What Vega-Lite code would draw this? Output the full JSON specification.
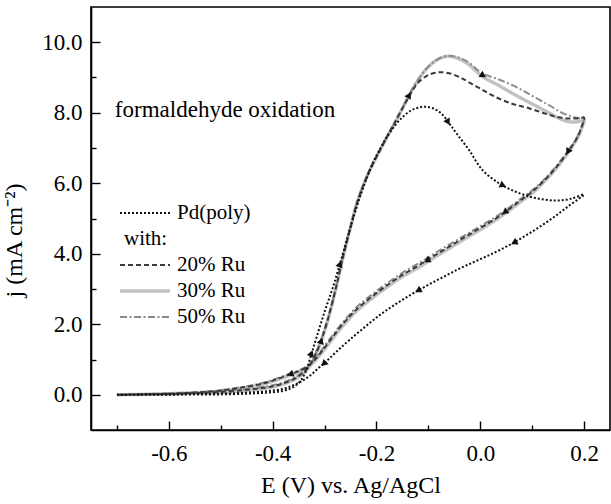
{
  "$schema": "https://vega.github.io/schema/vega-lite/v6.json",
  "width": 519,
  "height": 423,
  "autosize": {"type": "none"},
  "padding": {"left": 91, "top": 7, "right": 1, "bottom": 74},
  "background": "white",
  "config": {
    "font": "Liberation Serif",
    "view": {"stroke": "black", "strokeWidth": 1.6},
    "axis": {
      "grid": false,
      "domainColor": "black",
      "domainWidth": 1.6,
      "tickColor": "black",
      "tickWidth": 1.4,
      "labelFont": "Liberation Serif",
      "labelFontSize": 23,
      "labelColor": "black",
      "titleFont": "Liberation Serif",
      "titleFontSize": 24,
      "titleFontWeight": "normal",
      "titleColor": "black"
    },
    "legend": {
      "labelFont": "Liberation Serif",
      "labelFontSize": 21,
      "labelColor": "black",
      "symbolSize": 2500,
      "labelOffset": 5,
      "padding": 0,
      "rowPadding": 0,
      "clipHeight": 26
    }
  },
  "datasets": {
    "curves": [
      {"s": "30% Ru", "E": -0.70, "j": 0.00}, {"s": "30% Ru", "E": -0.65, "j": 0.01}, {"s": "30% Ru", "E": -0.60, "j": 0.02}, {"s": "30% Ru", "E": -0.55, "j": 0.04}, {"s": "30% Ru", "E": -0.50, "j": 0.07}, {"s": "30% Ru", "E": -0.45, "j": 0.12}, {"s": "30% Ru", "E": -0.42, "j": 0.17}, {"s": "30% Ru", "E": -0.40, "j": 0.22}, {"s": "30% Ru", "E": -0.38, "j": 0.30}, {"s": "30% Ru", "E": -0.36, "j": 0.42}, {"s": "30% Ru", "E": -0.345, "j": 0.56}, {"s": "30% Ru", "E": -0.33, "j": 0.78}, {"s": "30% Ru", "E": -0.318, "j": 1.10}, {"s": "30% Ru", "E": -0.307, "j": 1.50}, {"s": "30% Ru", "E": -0.295, "j": 2.05}, {"s": "30% Ru", "E": -0.28, "j": 2.90}, {"s": "30% Ru", "E": -0.266, "j": 3.80}, {"s": "30% Ru", "E": -0.25, "j": 4.75}, {"s": "30% Ru", "E": -0.236, "j": 5.50}, {"s": "30% Ru", "E": -0.215, "j": 6.30}, {"s": "30% Ru", "E": -0.195, "j": 6.88}, {"s": "30% Ru", "E": -0.18, "j": 7.30}, {"s": "30% Ru", "E": -0.165, "j": 7.70}, {"s": "30% Ru", "E": -0.15, "j": 8.12}, {"s": "30% Ru", "E": -0.135, "j": 8.55}, {"s": "30% Ru", "E": -0.12, "j": 8.92}, {"s": "30% Ru", "E": -0.105, "j": 9.22}, {"s": "30% Ru", "E": -0.09, "j": 9.43}, {"s": "30% Ru", "E": -0.075, "j": 9.56}, {"s": "30% Ru", "E": -0.06, "j": 9.60}, {"s": "30% Ru", "E": -0.045, "j": 9.55}, {"s": "30% Ru", "E": -0.025, "j": 9.40}, {"s": "30% Ru", "E": 0.004, "j": 9.03}, {"s": "30% Ru", "E": 0.035, "j": 8.78}, {"s": "30% Ru", "E": 0.068, "j": 8.50}, {"s": "30% Ru", "E": 0.10, "j": 8.25}, {"s": "30% Ru", "E": 0.132, "j": 8.00}, {"s": "30% Ru", "E": 0.155, "j": 7.82}, {"s": "30% Ru", "E": 0.175, "j": 7.74}, {"s": "30% Ru", "E": 0.19, "j": 7.75}, {"s": "30% Ru", "E": 0.20, "j": 7.80},
      {"s": "30% Ru", "E": 0.195, "j": 7.55}, {"s": "30% Ru", "E": 0.188, "j": 7.30}, {"s": "30% Ru", "E": 0.176, "j": 7.02}, {"s": "30% Ru", "E": 0.157, "j": 6.62}, {"s": "30% Ru", "E": 0.138, "j": 6.28}, {"s": "30% Ru", "E": 0.12, "j": 6.00}, {"s": "30% Ru", "E": 0.10, "j": 5.72}, {"s": "30% Ru", "E": 0.08, "j": 5.50}, {"s": "30% Ru", "E": 0.055, "j": 5.22}, {"s": "30% Ru", "E": 0.03, "j": 4.96}, {"s": "30% Ru", "E": 0.00, "j": 4.68}, {"s": "30% Ru", "E": -0.03, "j": 4.42}, {"s": "30% Ru", "E": -0.06, "j": 4.15}, {"s": "30% Ru", "E": -0.09, "j": 3.88}, {"s": "30% Ru", "E": -0.12, "j": 3.60}, {"s": "30% Ru", "E": -0.15, "j": 3.35}, {"s": "30% Ru", "E": -0.18, "j": 3.05}, {"s": "30% Ru", "E": -0.21, "j": 2.72}, {"s": "30% Ru", "E": -0.24, "j": 2.35}, {"s": "30% Ru", "E": -0.265, "j": 1.95}, {"s": "30% Ru", "E": -0.288, "j": 1.52}, {"s": "30% Ru", "E": -0.305, "j": 1.20}, {"s": "30% Ru", "E": -0.318, "j": 0.97}, {"s": "30% Ru", "E": -0.33, "j": 0.80}, {"s": "30% Ru", "E": -0.345, "j": 0.67}, {"s": "30% Ru", "E": -0.367, "j": 0.55}, {"s": "30% Ru", "E": -0.40, "j": 0.38}, {"s": "30% Ru", "E": -0.43, "j": 0.26}, {"s": "30% Ru", "E": -0.47, "j": 0.16}, {"s": "30% Ru", "E": -0.52, "j": 0.08}, {"s": "30% Ru", "E": -0.60, "j": 0.03}, {"s": "30% Ru", "E": -0.70, "j": 0.00},

      {"s": "50% Ru", "E": -0.70, "j": 0.00}, {"s": "50% Ru", "E": -0.65, "j": 0.01}, {"s": "50% Ru", "E": -0.60, "j": 0.03}, {"s": "50% Ru", "E": -0.55, "j": 0.06}, {"s": "50% Ru", "E": -0.50, "j": 0.10}, {"s": "50% Ru", "E": -0.45, "j": 0.16}, {"s": "50% Ru", "E": -0.42, "j": 0.22}, {"s": "50% Ru", "E": -0.40, "j": 0.27}, {"s": "50% Ru", "E": -0.38, "j": 0.35}, {"s": "50% Ru", "E": -0.36, "j": 0.47}, {"s": "50% Ru", "E": -0.345, "j": 0.61}, {"s": "50% Ru", "E": -0.33, "j": 0.84}, {"s": "50% Ru", "E": -0.318, "j": 1.16}, {"s": "50% Ru", "E": -0.307, "j": 1.55}, {"s": "50% Ru", "E": -0.295, "j": 2.10}, {"s": "50% Ru", "E": -0.28, "j": 2.93}, {"s": "50% Ru", "E": -0.266, "j": 3.82}, {"s": "50% Ru", "E": -0.25, "j": 4.76}, {"s": "50% Ru", "E": -0.236, "j": 5.52}, {"s": "50% Ru", "E": -0.215, "j": 6.31}, {"s": "50% Ru", "E": -0.195, "j": 6.90}, {"s": "50% Ru", "E": -0.18, "j": 7.32}, {"s": "50% Ru", "E": -0.165, "j": 7.72}, {"s": "50% Ru", "E": -0.15, "j": 8.14}, {"s": "50% Ru", "E": -0.135, "j": 8.56}, {"s": "50% Ru", "E": -0.12, "j": 8.93}, {"s": "50% Ru", "E": -0.105, "j": 9.23}, {"s": "50% Ru", "E": -0.09, "j": 9.44}, {"s": "50% Ru", "E": -0.075, "j": 9.57}, {"s": "50% Ru", "E": -0.06, "j": 9.62}, {"s": "50% Ru", "E": -0.045, "j": 9.58}, {"s": "50% Ru", "E": -0.025, "j": 9.45}, {"s": "50% Ru", "E": 0.004, "j": 9.12}, {"s": "50% Ru", "E": 0.035, "j": 8.95}, {"s": "50% Ru", "E": 0.068, "j": 8.74}, {"s": "50% Ru", "E": 0.10, "j": 8.48}, {"s": "50% Ru", "E": 0.132, "j": 8.22}, {"s": "50% Ru", "E": 0.155, "j": 8.02}, {"s": "50% Ru", "E": 0.175, "j": 7.90}, {"s": "50% Ru", "E": 0.19, "j": 7.85}, {"s": "50% Ru", "E": 0.20, "j": 7.87},
      {"s": "50% Ru", "E": 0.195, "j": 7.60}, {"s": "50% Ru", "E": 0.188, "j": 7.35}, {"s": "50% Ru", "E": 0.176, "j": 7.06}, {"s": "50% Ru", "E": 0.157, "j": 6.68}, {"s": "50% Ru", "E": 0.138, "j": 6.34}, {"s": "50% Ru", "E": 0.12, "j": 6.06}, {"s": "50% Ru", "E": 0.10, "j": 5.80}, {"s": "50% Ru", "E": 0.08, "j": 5.58}, {"s": "50% Ru", "E": 0.055, "j": 5.30}, {"s": "50% Ru", "E": 0.03, "j": 5.05}, {"s": "50% Ru", "E": 0.00, "j": 4.78}, {"s": "50% Ru", "E": -0.03, "j": 4.52}, {"s": "50% Ru", "E": -0.06, "j": 4.26}, {"s": "50% Ru", "E": -0.09, "j": 3.99}, {"s": "50% Ru", "E": -0.12, "j": 3.72}, {"s": "50% Ru", "E": -0.15, "j": 3.46}, {"s": "50% Ru", "E": -0.18, "j": 3.16}, {"s": "50% Ru", "E": -0.21, "j": 2.83}, {"s": "50% Ru", "E": -0.24, "j": 2.46}, {"s": "50% Ru", "E": -0.265, "j": 2.05}, {"s": "50% Ru", "E": -0.288, "j": 1.62}, {"s": "50% Ru", "E": -0.305, "j": 1.28}, {"s": "50% Ru", "E": -0.318, "j": 1.03}, {"s": "50% Ru", "E": -0.33, "j": 0.86}, {"s": "50% Ru", "E": -0.345, "j": 0.72}, {"s": "50% Ru", "E": -0.367, "j": 0.60}, {"s": "50% Ru", "E": -0.40, "j": 0.42}, {"s": "50% Ru", "E": -0.43, "j": 0.30}, {"s": "50% Ru", "E": -0.47, "j": 0.19}, {"s": "50% Ru", "E": -0.52, "j": 0.10}, {"s": "50% Ru", "E": -0.60, "j": 0.04}, {"s": "50% Ru", "E": -0.70, "j": 0.00},

      {"s": "20% Ru", "E": -0.70, "j": 0.00}, {"s": "20% Ru", "E": -0.65, "j": 0.01}, {"s": "20% Ru", "E": -0.60, "j": 0.02}, {"s": "20% Ru", "E": -0.55, "j": 0.05}, {"s": "20% Ru", "E": -0.50, "j": 0.08}, {"s": "20% Ru", "E": -0.45, "j": 0.14}, {"s": "20% Ru", "E": -0.42, "j": 0.19}, {"s": "20% Ru", "E": -0.40, "j": 0.24}, {"s": "20% Ru", "E": -0.38, "j": 0.32}, {"s": "20% Ru", "E": -0.36, "j": 0.44}, {"s": "20% Ru", "E": -0.345, "j": 0.58}, {"s": "20% Ru", "E": -0.33, "j": 0.80}, {"s": "20% Ru", "E": -0.318, "j": 1.12}, {"s": "20% Ru", "E": -0.307, "j": 1.52}, {"s": "20% Ru", "E": -0.295, "j": 2.07}, {"s": "20% Ru", "E": -0.28, "j": 2.91}, {"s": "20% Ru", "E": -0.266, "j": 3.81}, {"s": "20% Ru", "E": -0.25, "j": 4.75}, {"s": "20% Ru", "E": -0.236, "j": 5.51}, {"s": "20% Ru", "E": -0.215, "j": 6.30}, {"s": "20% Ru", "E": -0.195, "j": 6.89}, {"s": "20% Ru", "E": -0.18, "j": 7.31}, {"s": "20% Ru", "E": -0.165, "j": 7.71}, {"s": "20% Ru", "E": -0.15, "j": 8.12}, {"s": "20% Ru", "E": -0.135, "j": 8.52}, {"s": "20% Ru", "E": -0.12, "j": 8.85}, {"s": "20% Ru", "E": -0.10, "j": 9.07}, {"s": "20% Ru", "E": -0.085, "j": 9.14}, {"s": "20% Ru", "E": -0.076, "j": 9.15}, {"s": "20% Ru", "E": -0.06, "j": 9.12}, {"s": "20% Ru", "E": -0.041, "j": 9.02}, {"s": "20% Ru", "E": -0.02, "j": 8.85}, {"s": "20% Ru", "E": 0.004, "j": 8.65}, {"s": "20% Ru", "E": 0.025, "j": 8.48}, {"s": "20% Ru", "E": 0.049, "j": 8.32}, {"s": "20% Ru", "E": 0.07, "j": 8.22}, {"s": "20% Ru", "E": 0.094, "j": 8.13}, {"s": "20% Ru", "E": 0.12, "j": 8.00}, {"s": "20% Ru", "E": 0.145, "j": 7.89}, {"s": "20% Ru", "E": 0.17, "j": 7.84}, {"s": "20% Ru", "E": 0.19, "j": 7.84}, {"s": "20% Ru", "E": 0.20, "j": 7.86},
      {"s": "20% Ru", "E": 0.195, "j": 7.58}, {"s": "20% Ru", "E": 0.188, "j": 7.33}, {"s": "20% Ru", "E": 0.176, "j": 7.04}, {"s": "20% Ru", "E": 0.157, "j": 6.65}, {"s": "20% Ru", "E": 0.138, "j": 6.31}, {"s": "20% Ru", "E": 0.12, "j": 6.03}, {"s": "20% Ru", "E": 0.10, "j": 5.76}, {"s": "20% Ru", "E": 0.08, "j": 5.54}, {"s": "20% Ru", "E": 0.055, "j": 5.26}, {"s": "20% Ru", "E": 0.03, "j": 5.00}, {"s": "20% Ru", "E": 0.00, "j": 4.73}, {"s": "20% Ru", "E": -0.03, "j": 4.47}, {"s": "20% Ru", "E": -0.06, "j": 4.20}, {"s": "20% Ru", "E": -0.09, "j": 3.93}, {"s": "20% Ru", "E": -0.12, "j": 3.66}, {"s": "20% Ru", "E": -0.15, "j": 3.40}, {"s": "20% Ru", "E": -0.18, "j": 3.10}, {"s": "20% Ru", "E": -0.21, "j": 2.77}, {"s": "20% Ru", "E": -0.24, "j": 2.40}, {"s": "20% Ru", "E": -0.265, "j": 2.00}, {"s": "20% Ru", "E": -0.288, "j": 1.57}, {"s": "20% Ru", "E": -0.305, "j": 1.24}, {"s": "20% Ru", "E": -0.318, "j": 1.00}, {"s": "20% Ru", "E": -0.33, "j": 0.83}, {"s": "20% Ru", "E": -0.345, "j": 0.70}, {"s": "20% Ru", "E": -0.367, "j": 0.58}, {"s": "20% Ru", "E": -0.40, "j": 0.40}, {"s": "20% Ru", "E": -0.43, "j": 0.28}, {"s": "20% Ru", "E": -0.47, "j": 0.18}, {"s": "20% Ru", "E": -0.52, "j": 0.09}, {"s": "20% Ru", "E": -0.60, "j": 0.03}, {"s": "20% Ru", "E": -0.70, "j": 0.00},

      {"s": "Pd(poly)", "E": -0.70, "j": 0.00}, {"s": "Pd(poly)", "E": -0.65, "j": 0.00}, {"s": "Pd(poly)", "E": -0.60, "j": 0.00}, {"s": "Pd(poly)", "E": -0.55, "j": 0.01}, {"s": "Pd(poly)", "E": -0.50, "j": 0.01}, {"s": "Pd(poly)", "E": -0.45, "j": 0.03}, {"s": "Pd(poly)", "E": -0.42, "j": 0.05}, {"s": "Pd(poly)", "E": -0.40, "j": 0.07}, {"s": "Pd(poly)", "E": -0.38, "j": 0.11}, {"s": "Pd(poly)", "E": -0.365, "j": 0.18}, {"s": "Pd(poly)", "E": -0.355, "j": 0.27}, {"s": "Pd(poly)", "E": -0.345, "j": 0.42}, {"s": "Pd(poly)", "E": -0.335, "j": 0.71}, {"s": "Pd(poly)", "E": -0.326, "j": 1.12}, {"s": "Pd(poly)", "E": -0.315, "j": 1.65}, {"s": "Pd(poly)", "E": -0.30, "j": 2.35}, {"s": "Pd(poly)", "E": -0.285, "j": 3.00}, {"s": "Pd(poly)", "E": -0.271, "j": 3.68}, {"s": "Pd(poly)", "E": -0.257, "j": 4.40}, {"s": "Pd(poly)", "E": -0.243, "j": 5.10}, {"s": "Pd(poly)", "E": -0.225, "j": 5.90}, {"s": "Pd(poly)", "E": -0.206, "j": 6.60}, {"s": "Pd(poly)", "E": -0.19, "j": 7.05}, {"s": "Pd(poly)", "E": -0.176, "j": 7.40}, {"s": "Pd(poly)", "E": -0.155, "j": 7.80}, {"s": "Pd(poly)", "E": -0.135, "j": 8.05}, {"s": "Pd(poly)", "E": -0.118, "j": 8.15}, {"s": "Pd(poly)", "E": -0.105, "j": 8.17}, {"s": "Pd(poly)", "E": -0.09, "j": 8.12}, {"s": "Pd(poly)", "E": -0.075, "j": 7.98}, {"s": "Pd(poly)", "E": -0.06, "j": 7.70}, {"s": "Pd(poly)", "E": -0.045, "j": 7.40}, {"s": "Pd(poly)", "E": -0.022, "j": 6.95}, {"s": "Pd(poly)", "E": 0.004, "j": 6.38}, {"s": "Pd(poly)", "E": 0.036, "j": 6.00}, {"s": "Pd(poly)", "E": 0.068, "j": 5.76}, {"s": "Pd(poly)", "E": 0.106, "j": 5.58}, {"s": "Pd(poly)", "E": 0.145, "j": 5.51}, {"s": "Pd(poly)", "E": 0.175, "j": 5.56}, {"s": "Pd(poly)", "E": 0.20, "j": 5.68},
      {"s": "Pd(poly)", "E": 0.17, "j": 5.35}, {"s": "Pd(poly)", "E": 0.14, "j": 5.02}, {"s": "Pd(poly)", "E": 0.11, "j": 4.72}, {"s": "Pd(poly)", "E": 0.08, "j": 4.45}, {"s": "Pd(poly)", "E": 0.05, "j": 4.20}, {"s": "Pd(poly)", "E": 0.02, "j": 3.98}, {"s": "Pd(poly)", "E": -0.01, "j": 3.78}, {"s": "Pd(poly)", "E": -0.04, "j": 3.58}, {"s": "Pd(poly)", "E": -0.07, "j": 3.35}, {"s": "Pd(poly)", "E": -0.10, "j": 3.12}, {"s": "Pd(poly)", "E": -0.13, "j": 2.87}, {"s": "Pd(poly)", "E": -0.16, "j": 2.60}, {"s": "Pd(poly)", "E": -0.19, "j": 2.30}, {"s": "Pd(poly)", "E": -0.22, "j": 1.95}, {"s": "Pd(poly)", "E": -0.25, "j": 1.58}, {"s": "Pd(poly)", "E": -0.275, "j": 1.25}, {"s": "Pd(poly)", "E": -0.295, "j": 0.97}, {"s": "Pd(poly)", "E": -0.31, "j": 0.78}, {"s": "Pd(poly)", "E": -0.325, "j": 0.58}, {"s": "Pd(poly)", "E": -0.34, "j": 0.42}, {"s": "Pd(poly)", "E": -0.36, "j": 0.27}, {"s": "Pd(poly)", "E": -0.38, "j": 0.17}, {"s": "Pd(poly)", "E": -0.41, "j": 0.10}, {"s": "Pd(poly)", "E": -0.45, "j": 0.06}, {"s": "Pd(poly)", "E": -0.50, "j": 0.03}, {"s": "Pd(poly)", "E": -0.60, "j": 0.01}, {"s": "Pd(poly)", "E": -0.70, "j": 0.00}
    ],
    "arrows": [
      {"E": -0.326, "j": 1.15, "dir": 20},
      {"E": -0.271, "j": 3.68, "dir": 17},
      {"E": -0.063, "j": 7.76, "dir": 150},
      {"E": 0.042, "j": 5.95, "dir": 115},
      {"E": 0.067, "j": 4.33, "dir": 242},
      {"E": -0.118, "j": 2.97, "dir": 240},
      {"E": -0.300, "j": 0.90, "dir": 225},
      {"E": -0.307, "j": 1.50, "dir": 18},
      {"E": -0.138, "j": 8.47, "dir": 28},
      {"E": 0.004, "j": 9.07, "dir": 122},
      {"E": 0.170, "j": 6.92, "dir": 210},
      {"E": 0.049, "j": 5.20, "dir": 234},
      {"E": -0.101, "j": 3.82, "dir": 240},
      {"E": -0.364, "j": 0.59, "dir": 251}
    ],
    "notes": [
      {"E": -0.704, "j": 7.87, "label": "formaldehyde oxidation"}
    ]
  },
  "layer": [
    {
      "data": {"name": "curves"},
      "mark": {"type": "line", "interpolate": "catmull-rom", "strokeCap": "butt"},
      "encoding": {
        "x": {
          "field": "E", "type": "quantitative",
          "scale": {"domain": [-0.75, 0.25], "nice": false, "zero": false},
          "axis": {
            "title": "E (V) vs. Ag/AgCl",
            "values": [-0.7, -0.6, -0.5, -0.4, -0.3, -0.2, -0.1, 0, 0.1, 0.2],
            "tickSize": {"condition": {"test": "round(datum.value*10) % 2 != 0", "value": -5}, "value": -9},
            "labelExpr": "round(datum.value*10) % 2 == 0 ? replace(format(datum.value, '.1f'), '\u2212', '-') : ''",
            "labelPadding": 39,
            "labelBaseline": "alphabetic",
            "labelFlush": false,
            "labelOverlap": false,
            "titleBaseline": "alphabetic",
            "titleY": 62
          }
        },
        "y": {
          "field": "j", "type": "quantitative",
          "scale": {"domain": [-1, 11], "nice": false, "zero": false},
          "axis": {
            "title": "j (mA cm\u207b\u00b2)",
            "values": [0, 1, 2, 3, 4, 5, 6, 7, 8, 9, 10],
            "tickSize": {"condition": {"test": "datum.value % 2 != 0", "value": -5}, "value": -9},
            "labelExpr": "datum.value % 2 == 0 ? format(datum.value, '.1f') : ''",
            "labelPadding": 18,
            "labelFlush": false,
            "labelOverlap": false,
            "titleX": -77,
            "titleY": 233,
            "titleBaseline": "middle"
          }
        },
        "color": {
          "field": "s", "type": "nominal",
          "scale": {"domain": ["Pd(poly)", "with:", "20% Ru", "30% Ru", "50% Ru"], "range": ["#111111", "rgba(0,0,0,0)", "#3a3a3a", "#c2c2c2", "#8a8a8a"]},
          "legend": {"title": null, "orient": "none", "legendX": 27, "legendY": 193, "symbolType": "stroke", "encode": {"labels": {"update": {"dx": {"signal": "datum.label === 'with:' ? -53 : 0"}}}}}
        },
        "strokeDash": {
          "field": "s", "type": "nominal",
          "scale": {"domain": ["Pd(poly)", "with:", "20% Ru", "30% Ru", "50% Ru"], "range": [[2, 2], [1, 0], [5, 3], [1, 0], [7, 2.5, 2, 2.5]]},
          "legend": {"title": null, "orient": "none", "legendX": 27, "legendY": 193, "symbolType": "stroke"}
        },
        "strokeWidth": {
          "field": "s", "type": "nominal",
          "scale": {"type": "ordinal", "domain": ["Pd(poly)", "with:", "20% Ru", "30% Ru", "50% Ru"], "range": [2, 1, 2, 3.4, 2]},
          "legend": {"title": null, "orient": "none", "legendX": 27, "legendY": 193, "symbolType": "stroke"}
        },
        "order": {"value": null}
      }
    },
    {
      "data": {"name": "arrows"},
      "mark": {"type": "point", "shape": "triangle", "filled": true, "size": 55, "color": "#111111", "opacity": 1},
      "encoding": {
        "x": {"field": "E", "type": "quantitative"},
        "y": {"field": "j", "type": "quantitative"},
        "angle": {"field": "dir", "type": "quantitative", "scale": null}
      }
    },
    {
      "data": {"name": "notes"},
      "mark": {"type": "text", "align": "left", "baseline": "alphabetic", "fontSize": 23, "font": "Liberation Serif", "color": "black"},
      "encoding": {
        "x": {"field": "E", "type": "quantitative"},
        "y": {"field": "j", "type": "quantitative"},
        "text": {"field": "label"}
      }
    }
  ]
}
